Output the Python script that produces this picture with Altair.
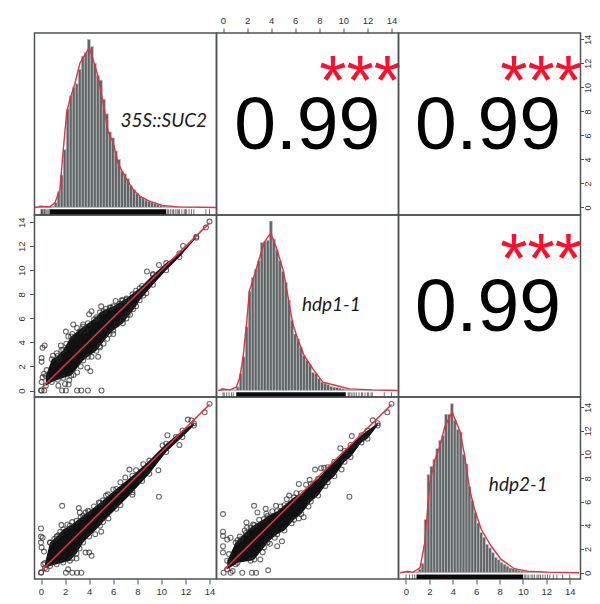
import altair as alt
import pandas as pd

ticks = [0, 2, 4, 6, 8, 10, 12, 14]
bin_width = 0.25

# histogram bar heights (axis units)
hist1 = [0.15,0,0.05,0.05,0.1,0.4,1.3,2.7,4.8,8.2,9.3,10.0,10.3,11.5,12.6,12.9,14.0,13.4,12.0,11.0,10.6,9.0,7.8,6.3,5.8,4.7,4.0,3.0,2.8,2.4,1.8,1.5,1.15,0.95,0.8,0.6,0.5,0.42,0.32,0.25,0.18,0.12,0.1,0.08,0.06,0.05,0.05,0.04,0.03,0.03,0.02,0.02,0.01,0.01,0.01,0.01,0.01,0.01]
hist2 = [0.2,0.05,0.03,0.04,0.08,0.3,1.4,2.8,5.3,8.25,9.4,10.1,10.8,12.3,12.4,12.5,14.1,12.6,11.7,10.8,9.9,9.0,7.5,5.8,4.7,4.3,3.6,2.9,2.5,2.2,1.5,1.4,1.0,0.7,0.6,0.5,0.35,0.28,0.25,0.2,0.15,0.1,0.08,0.06,0.05,0.05,0.04,0.03,0.03,0.02,0.02,0.01,0.01,0.01,0.01,0.01,0.01,0.01]
hist3 = [0.02,0.14,0.02,0.03,0.08,0.3,0.8,4.5,8.3,9.0,9.6,10.5,11.2,11.6,13.4,13.4,14.3,12.9,12.1,11.9,10.0,9.2,7.3,6.1,5.1,4.2,3.4,3.0,2.4,2.1,1.7,1.3,1.1,0.85,0.7,0.55,0.4,0.35,0.3,0.2,0.15,0.12,0.1,0.08,0.06,0.05,0.05,0.04,0.03,0.03,0.02,0.02,0.01,0.01,0.01,0.01,0.01,0.01]

# density curves
curve1_x = [-0.5,0.1,0.75,1.16,1.57,1.85,2.13,2.4,2.8,3.23,3.65,4.0,4.33,4.75,5.16,5.58,6.0,6.4,6.8,7.2,7.65,8.2,9.0,10.1,11.3,14.58]
curve1_y = [0,0.08,0.05,0.4,1.5,4.8,7.9,9.0,10.25,12.0,12.7,13.3,12.3,10.9,8.7,6.3,5.4,3.7,2.9,2.2,1.5,0.95,0.53,0.17,0.05,0]
curve2_x = [-0.4,0.1,0.57,1.1,1.4,1.67,1.95,2.2,2.64,3.05,3.47,3.96,4.43,5,5.4,5.8,6.2,6.75,7.47,8.3,9.4,10.5,12.4,14.5]
curve2_y = [0,0.1,0.05,0.28,1.1,2.8,5.5,8.3,9.7,11.1,12.4,13.1,11.9,10,7.8,5.55,4.3,2.9,1.8,0.7,0.42,0.14,0.05,0]
curve3_x = [-0.5,0.1,0.62,1.2,1.6,2.04,2.46,2.9,3.3,3.94,4.6,5,5.44,5.86,6.43,7.28,8.13,9.26,10.4,12.1,14.8]
curve3_y = [0,0.1,0.05,0.42,2.5,7.6,9.5,10.7,12.3,13.6,12,10,7.06,5.37,3.67,2.26,1.13,0.34,0.14,0.05,0]

# rugs: solid run and the separate ticks either side
rug1_run = [0.75, 10.4]
rug1_ticks = [0,0.05,0.1,0.15,0.25,0.3,0.4,0.5,0.6,0.7,10.5,10.6,10.75,10.9,11,11.15,11.3,11.4,11.5,11.7,11.9,12,12.1,12.3,12.5,12.7,13.7,14.0]
rug2_run = [1.1, 10.2]
rug2_ticks = [0,0.1,0.3,0.5,0.7,0.85,10.4,10.5,10.65,10.8,10.95,11.1,11.3,11.5,11.6,11.8,12,12.1,12.3,12.4,13.4,14]
rug3_run = [0.9, 10]
rug3_ticks = [0,0.3,0.55,0.75,10.1,10.2,10.35,10.5,10.7,10.85,11,11.2,11.35,11.5,11.7,11.9,12.1,12.3,12.6,12.9,13.4,14]

# scatter clouds: solid core outline (x, low, high)
core4_x = [0.4,0.9,1.4,1.85,2.5,3.5,3.9,4.6,4.9,5.7,6,6.8,7.1,7.9,8.2,9.3,10.4,11.5,12.9]
core4_lo = [0.4,0.7,0.9,1.05,1.25,2.5,2.8,3.3,3.7,4.7,5,5.6,6,7,7.5,8.8,10,11.1,12.7]
core4_hi = [1.2,2.6,2.9,3.4,4.5,5.3,5.6,6.1,6.5,6.9,7.0,7.5,7.65,8.3,8.5,9.6,10.6,11.4,12.8]
core7_x = [0.33,0.75,1.3,1.85,2.4,2.95,3.5,4,4.9,5.15,6.25,7.6,9,10.4,11.75,12.7]
core7_lo = [0.4,0.55,0.7,0.85,1,1.6,2.5,3,3.9,4.2,5.3,6.67,8.2,10,11.25,12.2]
core7_hi = [0.8,2.5,3,3.6,3.9,4.3,4.75,5.1,5.8,6,6.95,8.05,9.3,10.7,11.8,12.4]
core8_x = [0.35,1.05,1.2,2.3,2.6,3.4,3.7,4.5,5.1,5.9,6.5,7.3,7.9,8.7,9.25,10.1,10.6,11.5,12,12.85]
core8_lo = [0.28,0.7,0.83,1,1.1,2.1,2.5,3.2,3.5,4.4,4.86,5.9,6.4,7.5,8,9.2,9.6,10.8,11.1,12.2]
core8_hi = [1.0,2.5,2.7,3.75,3.95,4.45,4.7,5.1,5.6,6.25,6.6,7.36,7.8,8.75,9.2,10.1,10.6,11.4,11.8,12.4]

# separate scatter points
pts4_x = [0,0.05,0.27,1.75,2.07,3,3.35,3.9,5.03,0.05,1.44,2,2.3,2.35,0.05,0.05,0.13,0.3,0.25,0.13,0.47,1.65,1.7,2.07,2.27,2.68,4,4.2,5,5.4,6.2,6.7,7.1,8.8,9.8,9.3,4.75,3.85,4.1,5.5,4.9,6.3,6.8,7.2,7.65,8.75,13.7,14,11.8,1.0,1.3,1.5,2.1,2.6,3.0,3.2,3.5,3.7,4.4,4.7,5.2,5.8,6.5,7.6,8.4,3.0,3.3,2.7,4.2,5.2,6,7.4,8.5]
pts4_y = [0,0,0,0,0,0,0,0,0,0.7,0.4,0.55,0.5,0.85,2.4,2.7,3.55,3.75,1.4,1.1,1.7,3.75,3.35,4.9,4.5,5.5,6.35,6.6,7,6.8,7.45,7.5,7.55,9.9,10.45,9.7,2.8,1.9,1.6,4.3,3.6,5.5,5.9,6.3,6.75,8.1,13.55,14.05,12.03,2.9,3.1,2.6,3.9,4.7,5.2,4.9,5.5,5.0,5.9,6.0,6.6,6.9,7.2,8.0,8.7,1.5,2.0,1.3,2.8,3.9,4.7,6.3,7.9]
pts7_x = [0,0.02,2.07,2.6,3,3.35,2.25,0.47,0.2,0,0,0.14,0,0.05,0.25,0.75,1.43,1.76,1.7,3.14,3.22,3.9,4.8,5.56,7,7.35,10.5,12.2,12.5,13.6,14,9.8,9.75,7.6,5,4,3.7,4.2,2.95,11.5,11.2,10.1,1.1,1.6,2.2,2.6,3.3,3.7,4.4,5.4,6,6.6,7.9,8.5,2.6,3.2,4.5,5.6,6.6,8.4]
pts7_y = [0,0.03,0,0,0,0,0.28,0.28,0.7,3.67,3,2.9,2.5,2.1,1.75,2.5,3.1,5.55,3.95,5.36,5,5.14,5.83,6.5,7.9,8.55,11.4,12.7,12.64,13.3,14,6.3,8.5,6.47,3.4,1.67,1.67,1.4,1.17,10.6,11.25,10.55,2.8,3.4,4.0,4.2,4.6,5.0,5.5,6.4,6.9,7.5,8.5,9.0,1.2,2.0,3.2,4.5,5.6,7.6]
pts8_x = [0.05,0.63,0.8,1.6,2.4,2.75,3.75,0,0,0,0.63,0.35,0,0,0.5,1.95,2,1.9,1.47,2.58,2.86,3.55,4.4,5.5,6.3,7.65,8.15,9.75,10.7,12.45,13.65,14,10.5,9.85,4.5,4.9,6.7,6.3,3.1,11,1.4,1.8,2.5,3,3.6,4.1,4.8,5.3,6.1,6.9,7.2,8.4,3.3,3.9,4.3,5.7,7.1,8.5]
pts8_y = [0,0,0.14,0,0,0,0.2,4.86,3.4,3.05,2.9,2.75,2.2,1.67,1.55,4.17,3.75,3.3,2.78,5.55,5,5.3,5.55,6.4,7.36,8.55,8.67,10.33,11.33,12.64,13.3,14,6.3,8.55,2.2,2.6,4.6,4.5,1.1,10.55,3.0,3.5,4.0,4.4,4.9,5.1,5.5,6.1,6.6,7.3,7.7,8.7,1.7,2.4,2.9,4.1,5.5,7.2]

# fitted lines
fit_x = [0.1, 14]
fit_y = [0.25, 13.95]

names = ["35S::SUC2", "hdp1-1", "hdp2-1"]
corr = "0.99"
stars = "***"

SIZE = 182
BASE = (-0.54, 14.58)
DARK = "#4d5353"
RED = "#e0304a"


def axis(orient=None):
    if orient is None:
        return None
    kw = dict(values=ticks, orient=orient, domain=False, grid=False, title=None, tickSize=5,
              tickColor=DARK, tickWidth=1, labelColor="#333333", labelFont="Liberation Sans",
              labelFontSize=9.5, labelPadding=3, format="d")
    if orient == "left":
        kw.update(labelAngle=270, labelAlign="center", labelBaseline="bottom")
    if orient == "right":
        kw.update(labelAngle=270, labelAlign="center", labelBaseline="top",
                  tickSize=3, labelPadding=0, labelFontSize=9)
    if orient == "bottom":
        kw.update(labelPadding=2)
    return alt.Axis(**kw)


def xy(xd, yd, xo=None, yo=None):
    return (alt.Scale(domain=list(xd), nice=False, zero=False),
            alt.Scale(domain=list(yd), nice=False, zero=False),
            axis(xo), axis(yo))


def scatter(core_x, lo, hi, px, py, xd, yd, xo=None, yo=None):
    sx, sy, ax, ay = xy(xd, yd, xo, yo)
    X = lambda f: alt.X(f, scale=sx, axis=ax)
    Y = lambda f: alt.Y(f, scale=sy, axis=ay)
    core = pd.DataFrame({"x": core_x, "lo": lo, "hi": hi})
    pts = pd.DataFrame({"x": px, "y": py})
    rim = pd.DataFrame({"x": core_x + core_x, "y": lo + hi})
    fit = pd.DataFrame({"x": fit_x, "y": fit_y})
    a = alt.Chart(core).mark_area(color="#111111", interpolate="linear", clip=True).encode(
        x=X("x:Q"), y=Y("lo:Q"), y2="hi:Q")
    ring = dict(shape="circle", filled=False, size=24, stroke="#2b2b2b", strokeWidth=1.1)
    b = alt.Chart(pts).mark_point(**ring).encode(x=X("x:Q"), y=Y("y:Q"))
    c = alt.Chart(rim).mark_point(**ring).encode(x=X("x:Q"), y=Y("y:Q"))
    d = alt.Chart(fit).mark_line(color=RED, strokeWidth=1.6).encode(x=X("x:Q"), y=Y("y:Q"))
    return alt.layer(a, c, b, d).properties(width=SIZE, height=SIZE)


def hist(h, start, cx, cy, run, rticks, label, lx, ly, xd, yd, xo=None, yo=None):
    sx, sy, ax, ay = xy(xd, yd, xo, yo)
    bars = pd.DataFrame({"a": [start + i * bin_width for i in range(len(h))],
                         "b": [start + (i + 1) * bin_width for i in range(len(h))],
                         "h": h, "z": [0.0] * len(h)})
    rug_top, rug_bot = -0.15, -0.7
    X = lambda f: alt.X(f, scale=sx, axis=ax)
    Y = lambda f: alt.Y(f, scale=sy, axis=ay)
    a = alt.Chart(bars).mark_rect(fill="#5f6565", stroke="#c2c6c6", strokeWidth=0.6).encode(
        x=X("a:Q"), x2="b:Q", y=Y("h:Q"), y2="z:Q")
    r = pd.DataFrame({"x": rticks, "t": [rug_top] * len(rticks), "b": [rug_bot] * len(rticks)})
    b = alt.Chart(r).mark_rule(color="#222222", strokeWidth=1, opacity=0.65, clip=True).encode(x=X("x:Q"), y=Y("t:Q"), y2="b:Q")
    rr = pd.DataFrame({"a": [run[0]], "b": [run[1]], "t": [rug_top], "e": [rug_bot]})
    c = alt.Chart(rr).mark_rect(color="#0a0a0a", clip=True).encode(x=X("a:Q"), x2="b:Q", y=Y("t:Q"), y2="e:Q")
    d = alt.Chart(pd.DataFrame({"x": cx, "y": cy})).mark_line(color=RED, strokeWidth=1.4, clip=True).encode(x=X("x:Q"), y=Y("y:Q"))
    t = alt.Chart(pd.DataFrame({"x": [lx], "y": [ly], "t": [label]})).mark_text(
        font="Lato", fontStyle="italic", fontSize=19, color="#1a1a1a").encode(x=X("x:Q"), y=Y("y:Q"), text="t:N")
    return alt.layer(a, b, c, d, t).properties(width=SIZE, height=SIZE)


def corr_panel(tx, ty, stx, sty, xd, yd, xo=None, yo=None):
    sx, sy, ax, ay = xy(xd, yd, xo, yo)
    X = lambda f: alt.X(f, scale=sx, axis=ax)
    Y = lambda f: alt.Y(f, scale=sy, axis=ay)
    a = alt.Chart(pd.DataFrame({"x": [tx], "y": [ty], "t": [corr]})).mark_text(
        font="Liberation Sans", fontSize=75, color="#000000").encode(x=X("x:Q"), y=Y("y:Q"), text="t:N")
    b = alt.Chart(pd.DataFrame({"x": [stx], "y": [sty], "t": [stars]})).mark_text(
        font="Liberation Sans", fontSize=70, color="#ff0f2e").encode(x=X("x:Q"), y=Y("y:Q"), text="t:N")
    return alt.layer(a, b).properties(width=SIZE, height=SIZE)


Y1 = (-0.63, 14.53)
Y2 = (-0.54, 14.6)
Y3 = (-0.52, 14.57)
Y9 = (-0.53, 14.86)
X3 = (-0.64, 14.92)

p1 = hist(hist1, -0.15, curve1_x, curve1_y, rug1_run, rug1_ticks, names[0], 10.2, 7.2, BASE, Y1)
p2 = corr_panel(7.0, 6.75, 11.4, 10.3, BASE, Y1, xo="top")
p3 = corr_panel(7.0, 6.75, 11.55, 10.3, X3, Y1, yo="right")
p4 = scatter(core4_x, core4_lo, core4_hi, pts4_x, pts4_y, BASE, Y2, yo="left")
p5 = hist(hist2, -0.15, curve2_x, curve2_y, rug2_run, rug2_ticks, names[1], 9.0, 7.15, BASE, Y2)
p6 = corr_panel(7.0, 6.85, 11.55, 10.65, X3, Y2)
p7 = scatter(core7_x, core7_lo, core7_hi, pts7_x, pts7_y, BASE, Y3, xo="bottom")
p8 = scatter(core8_x, core8_lo, core8_hi, pts8_x, pts8_y, BASE, Y3)
p9 = hist(hist3, -0.2, curve3_x, curve3_y, rug3_run, rug3_ticks, names[2], 9.6, 7.45, X3, Y9, xo="bottom", yo="right")

# Fixed page size: panels start at (34.5, 33) and the page keeps its natural scale.
chart = alt.concat(p1, p2, p3, p4, p5, p6, p7, p8, p9, columns=3, spacing=0, bounds="flush").properties(
    autosize=alt.AutoSizeParams(type="none"),
    padding={"left": 26.5, "top": 25, "right": 557.5, "bottom": 563},
    background="#ffffff",
).configure_view(stroke="#4d5353", strokeWidth=1.5)

chart.save("out.html", embed_options={"renderer": "svg", "actions": False})
